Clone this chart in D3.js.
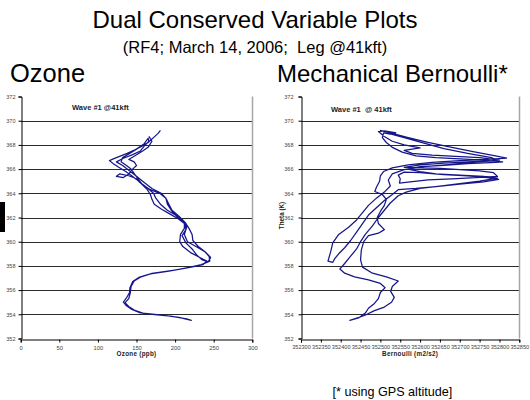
<!DOCTYPE html>
<html><head><meta charset="utf-8">
<script src="https://cdn.jsdelivr.net/npm/d3@7"></script>
<style>body{margin:0;background:#fff}svg{display:block;font-family:"Liberation Sans",Arial,sans-serif}</style>
</head><body>
<svg id="c" width="530" height="400"></svg>
<script>
// ---- data ----
const thetaTicks = [352,354,356,358,360,362,364,366,368,370,372];
const ozoneTicks = [0,50,100,150,200,250,300];
const bernoulliTicks = [352300,352350,352400,352450,352500,352550,352600,352650,352700,352750,352800,352850];
// [ozone ppb, theta K]
const ozonePath = [
[181,369.2],[178,368.95],[172,368.6],[165,368.2],[157,367.9],[148,367.6],[138,367.3],[128,367.05],[120,366.85],[115,366.7],
[120,366.45],[127,366.15],[135,365.85],[143,365.5],[150,365.15],[157,364.75],[164,364.3],[168,363.9],[170,363.5],[173,363.1],[182,362.7],[193,362.3],[204,361.9],[212,361.5],[212,361.1],[207,360.6],[206,360.0],[210,359.6],[220,359.1],[232,358.7],[241,358.4],[236,358.1],[226,357.95],[212,357.8],[190,357.55],[168,357.35],[153,357.05],[145,356.7],[141.5,356.2],[141,355.8],[137,355.35],[133,355.0],[137,354.7],[144,354.4],[155,354.12],[180,353.95],[205,353.75],[221,353.5],
[215,353.62],[194,353.85],[160,354.05],[147,354.35],[140,354.65],[135,354.95],[140,355.3],[142,355.8],[143,356.3],[147,356.75],[156,357.1],[170,357.38],[195,357.6],[218,357.88],[234,358.1],[245,358.4],[244,358.8],[238,359.2],[227,359.6],[216,360.0],[212,360.6],[215,361.2],[210,361.7],[202,362.1],[195,362.6],[190,363.1],[188,363.6],[182,364.0],[170,364.4],[160,364.9],[150,365.4],[140,365.9],[132,366.3],[124,366.6],[133,366.9],[145,367.2],[155,367.5],[160,367.9],[166,368.3],[165,368.55],
[160,368.1],[150,367.65],[140,367.25],[132,366.95],[130,366.6],[137,366.3],[143,366.0],[148,365.55],[153,365.1],[158,364.7],[168,364.3],[180,364.0],[188,363.6],[192,363.1],[196,362.6],[205,362.1],[213,361.6],[218,361.1],[222,360.6],[223,360.1],[230,359.6],[240,359.1],[246,358.7],[243,358.35],[235,358.5],[228,358.9],[222,359.4],[214,359.9],[209,360.5],[214,361.0],[212,361.6],[203,362.1],[190,362.6],[181,363.1],[175,363.6],[172,364.0],[165,364.4],[157,364.8],[150,365.2],[140,365.45],[128,365.6],[124,365.4],[133,365.3],[140,365.6],[145,366.0],[150,366.3],[147,366.6],[140,366.8],[148,367.1],[158,367.5],[165,367.8],[170,368.3],[166,368.7]
];
// [Bernoulli m2/s2, theta K]
const bernoulliPath = [
[352499,369.2],[352530,368.95],[352570,368.6],[352620,368.2],[352680,367.8],[352740,367.4],[352790,367.1],[352818,366.9],
[352770,366.8],[352700,366.7],[352630,366.55],[352570,366.35],[352530,366.1],[352508,365.8],[352500,365.45],[352498,365.0],[352490,364.5],[352486,364.15],[352505,363.9],[352515,363.5],[352510,363.0],[352500,362.5],[352492,362.0],[352495,361.5],[352510,361.0],[352495,360.7],[352470,360.5],[352458,360.0],[352452,359.3],[352450,358.5],[352455,357.9],[352480,357.4],[352515,357.1],[352545,356.75],[352530,356.3],[352526,355.9],[352535,355.4],[352528,355.0],[352510,354.6],[352485,354.3],[352460,353.9],[352423,353.5],
[352445,353.7],[352462,354.1],[352470,354.5],[352485,354.9],[352495,355.3],[352500,355.8],[352512,356.2],[352500,356.55],[352470,356.85],[352435,357.1],[352410,357.4],[352398,357.75],[352410,358.2],[352425,358.8],[352440,359.4],[352450,360.0],[352462,360.6],[352480,361.3],[352495,362.0],[352510,362.6],[352525,363.2],[352545,363.8],[352565,364.1],[352600,364.4],[352650,364.6],[352700,364.8],[352750,365.0],[352795,365.25],
[352760,365.4],[352700,365.5],[352640,365.6],[352600,365.8],[352570,366.0],[352600,366.2],[352660,366.3],[352720,366.45],[352790,366.55],[352808,366.6],
[352760,366.75],[352700,366.85],[352640,366.95],[352590,367.1],[352555,367.4],[352530,367.8],[352515,368.2],[352505,368.6],[352508,369.0],[352525,368.9],
[352560,368.6],[352610,368.15],[352660,367.7],[352720,367.3],[352780,366.95],[352795,366.7],[352740,366.6],[352680,366.4],[352610,366.2],[352560,365.95],[352530,365.6],[352520,365.1],[352525,364.6],[352510,364.1],[352490,363.6],[352470,363.0],[352455,362.4],[352440,361.8],[352420,361.2],[352395,360.6],[352380,359.9],[352375,359.2],[352368,358.4],[352380,358.3],
[352385,358.6],[352395,359.0],[352410,359.5],[352425,360.1],[352440,360.8],[352455,361.5],[352470,362.2],[352490,362.8],[352510,363.4],[352530,363.9],[352545,364.3],[352590,364.4],[352640,364.55],[352700,364.75],[352760,364.95],[352798,365.15],[352770,365.3],[352720,365.45],[352660,365.55],[352600,365.7],[352560,365.75],[352545,365.5],[352550,365.2],[352548,364.85],[352575,364.95],[352620,365.1],[352680,365.2],[352740,365.3],[352795,365.4],
[352785,365.7],[352750,365.85],[352700,365.95],[352650,366.05],[352600,366.1],[352560,366.15],[352600,366.35],[352660,366.5],[352720,366.6],[352780,366.7],[352800,366.75],[352750,366.95],[352690,367.05],[352630,367.15],[352580,367.3],[352560,367.55],[352600,367.75],[352560,368.0],[352530,368.3],[352510,368.7],[352495,369.1],[352510,369.15],[352540,369.0]
];

const svg = d3.select("#c");
const lineColor = "#16168a";

// titles
svg.append("text").attr("x",255).attr("y",28).attr("text-anchor","middle").attr("font-size",24).text("Dual Conserved Variable Plots");
svg.append("text").attr("x",255).attr("y",52.5).attr("text-anchor","middle").attr("font-size",16.5).style("white-space","pre").text("(RF4; March 14, 2006;  Leg @41kft)");
svg.append("text").attr("x",10).attr("y",81.5).attr("font-size",25.5).text("Ozone");
svg.append("text").attr("x",277).attr("y",81.5).attr("font-size",24).text("Mechanical Bernoulli*");
svg.append("text").attr("x",332.5).attr("y",395.5).attr("font-size",12.6).text("[* using GPS altitude]");
svg.append("rect").attr("x",0).attr("y",202).attr("width",5).attr("height",30).attr("fill","#000");

function panel(opts){
  const x = d3.scaleLinear().domain(opts.xDomain).range([opts.x0, opts.x1]);
  const y = d3.scaleLinear().domain([352,372]).range([338.5, 96.5]);
  const g = svg.append("g");
  // gridlines
  g.selectAll("line.grid").data(thetaTicks.filter(t=>t>352 && t<372)).enter().append("line")
    .attr("x1",opts.x0).attr("x2",opts.x1)
    .attr("y1",d=>Math.round(y(d))+0.5).attr("y2",d=>Math.round(y(d))+0.5)
    .attr("stroke","#2a2a2a").attr("stroke-width",1);
  // right border
  g.append("line").attr("x1",Math.round(opts.x1)+0.5).attr("x2",Math.round(opts.x1)+0.5)
    .attr("y1",y(372)).attr("y2",y(352)).attr("stroke","#a6a6a6").attr("stroke-width",1.5);
  // axes
  const ya = d3.axisLeft(y).tickValues(thetaTicks).tickSize(3).tickPadding(opts.yPad).tickFormat(d3.format("d"));
  const yg = g.append("g").attr("transform",`translate(${Math.round(opts.x0)+0.5},0)`).call(ya);
  const xa = d3.axisBottom(x).tickValues(opts.xTicks).tickSize(3).tickPadding(3).tickFormat(d3.format("d"));
  const xg = g.append("g").attr("transform",`translate(0,${Math.round(y(352))+0.5})`).call(xa);
  [yg,xg].forEach(a=>{
    a.select(".domain").attr("stroke","#000").attr("stroke-width",1);
    a.selectAll(".tick line").attr("stroke","#000");
    a.selectAll(".tick text").attr("font-size",opts.tickFont).attr("fill","#444").attr("font-family","Liberation Sans, Arial, sans-serif");
  });
  xg.selectAll(".tick text").attr("font-size",opts.xTickFont);
  // line
  const line = d3.line().x(d=>x(d[0])).y(d=>y(d[1]));
  g.append("path").datum(opts.data).attr("d",line).attr("fill","none")
    .attr("stroke",lineColor).attr("stroke-width",1.25).attr("stroke-linejoin","round");
  // labels
  g.append("text").attr("x",opts.waveX).attr("y",opts.waveY).attr("font-size",7.5).attr("font-weight","bold")
    .attr("fill","#222").style("white-space","pre").text(opts.wave);
  g.append("text").attr("x",(opts.x0+opts.x1)/2).attr("y",356).attr("text-anchor","middle")
    .attr("font-size",6.3).attr("font-weight","bold").attr("fill","#222").attr("letter-spacing",0.3).text(opts.xLabel);
  return {x,y,g};
}

panel({xDomain:[0,300], x0:20.7, x1:252.3, xTicks:ozoneTicks, data:ozonePath, yPad:3,
  tickFont:5.5, xTickFont:5.8, wave:"Wave #1 @41kft", waveX:72, waveY:109.5, xLabel:"Ozone (ppb)"});
panel({xDomain:[352300,352850], x0:301, x1:519.3, xTicks:bernoulliTicks, data:bernoulliPath, yPad:5,
  tickFont:5.5, xTickFont:5.6, wave:"Wave #1  @ 41kft", waveX:331, waveY:112, xLabel:"Bernoulli (m2/s2)"});

svg.append("text").attr("transform","translate(284,215.5) rotate(-90)").attr("text-anchor","middle")
  .attr("font-size",6.3).attr("font-weight","bold").attr("fill","#222").text("Theta (K)");
</script>
</body></html>
